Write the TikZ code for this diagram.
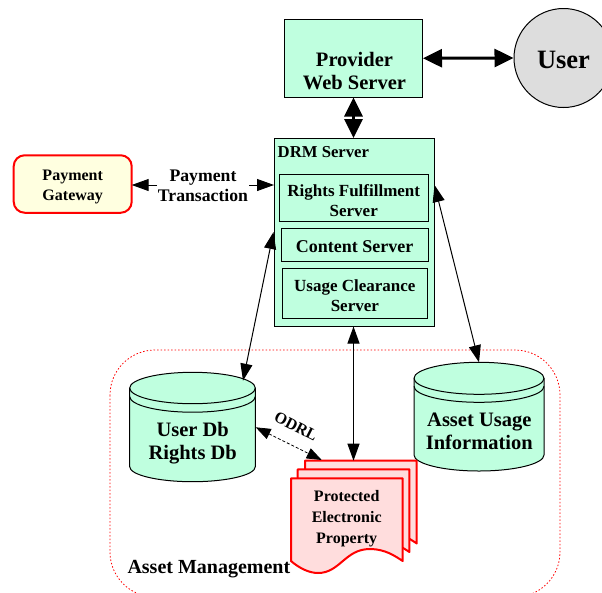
\documentclass[tikz,border=0pt]{standalone}
\usepackage{fontspec}
\setmainfont{Liberation Serif}
\usetikzlibrary{arrows.meta}
\definecolor{mintfill}{HTML}{BFFFDF}
\definecolor{grayfill}{HTML}{DDDDDD}
\definecolor{paperfill}{HTML}{FFDDDD}
\definecolor{gatefill}{HTML}{FFFFE0}
\tikzset{
  box/.style={draw=black,line width=1pt,fill=mintfill,inner sep=0pt,align=center},
  lbl/.style={inner sep=0pt,align=center},
  fs/.style n args={2}{font=\bfseries\fontsize{#1}{#2}\selectfont},
  thin arrow/.style={line width=1pt,{Triangle[length=17pt,width=12pt]}-{Triangle[length=17pt,width=12pt]}},
  thick arrow/.style={line width=3pt,{Triangle[length=19pt,width=18pt]}-{Triangle[length=19pt,width=18pt]}},
  db/.style={draw=black,line width=1pt,fill=mintfill},
  paper/.style={draw=red,line width=2pt,fill=paperfill,line join=round},
}
\newcommand{\rectnode}[7]{% name, x1,y1,x2,y2, text style, text
  \node[box,minimum width=#4pt-#2pt,minimum height=#5pt-#3pt] (#1) at ({(#2+#4)/2},{(#3+#5)/2}) {};
  \node[lbl,#6] (#1txt) at ([yshift=-2pt]#1.center) {#7};}
\newcommand{\dbcyl}[8]{% x1,x2,top,side,endside,low,band,name
  \pgfmathsetmacro{\cxx}{(#1+#2)/2}
  \pgfmathsetmacro{\kx}{0.55*(#2-#1)/2}
  \pgfmathsetmacro{\ktop}{0.55*(#4-#3)}
  \pgfmathsetmacro{\klow}{0.55*(#6-#5)}
  \draw[db] (#1,#4) .. controls (#1,#4-\ktop) and (\cxx-\kx,#3) .. (\cxx,#3)
    .. controls (\cxx+\kx,#3) and (#2,#4-\ktop) .. (#2,#4)
    -- (#2,#5) .. controls (#2,#5+\klow) and (\cxx+\kx,#6) .. (\cxx,#6)
    .. controls (\cxx-\kx,#6) and (#1,#5+\klow) .. (#1,#5) -- cycle;
  \foreach \off in {0,#7}{
    \draw[line width=1pt] (#1,#4+\off) .. controls (#1,#4+\off+\ktop) and (\cxx-\kx,#4+\off+#4-#3) .. (\cxx,#4+\off+#4-#3)
      .. controls (\cxx+\kx,#4+\off+#4-#3) and (#2,#4+\off+\ktop) .. (#2,#4+\off);
  }
  \coordinate (#8) at (\cxx,#3);
}
\newcommand{\docpage}[2]{%
  \draw[paper,shift={(#1,#2)}] (291,561) -- (291,478.3) -- (402.7,478.3) -- (402.7,561)
    .. controls (395,556) and (385,549) .. (370,549)
    .. controls (345,549) and (340,573) .. (318,573)
    .. controls (309,573) and (299,568) .. (291,561) -- cycle;}
\begin{document}
\begin{tikzpicture}[x=1pt,y=-1pt]
\useasboundingbox (0,0) rectangle (602,592);
% asset management region
\begin{scope}
  \clip (0,0) rectangle (602,592);
  \draw[red,line width=0.8pt,dash pattern=on 1.5pt off 2pt,rounded corners=45pt] (110,350) rectangle (560,597);
\end{scope}
% top nodes
\node[box,minimum width=138pt,minimum height=77.5pt] (provider) at (353.5,58.25) {};
\node[lbl,fs={20.5}{22.7}] (providertxt) at (354.5,71) {Provider\\Web Server};
\node[draw=black,line width=1pt,fill=grayfill,circle,minimum size=99pt,inner sep=0pt] (user) at (563.5,58) {};
\node[lbl,fs={26.5}{30}] (usertxt) at (563.5,59.5) {User};
% DRM server
\node[box,minimum width=160pt,minimum height=187.5pt] (drm) at (354,232.25) {};
\node[lbl,anchor=west,fs={16.7}{19}] (drmtxt) at (277.5,152.5) {DRM Server};
\rectnode{rights}{279.5}{174.7}{428}{221.7}{fs={17}{20}}{Rights Fulfillment\\Server}
\rectnode{content}{281}{228.7}{428.3}{261.3}{fs={18}{20}}{Content Server}
\rectnode{usage}{282}{268.3}{427.7}{318.3}{fs={17}{20}}{Usage Clearance\\Server}
% gateway
\node[draw=red,line width=2pt,fill=gatefill,rounded corners=11pt,minimum width=118pt,minimum height=57.5pt,inner sep=0pt] (gate) at (72.7,184) {};
\node[lbl,fs={16}{20}] (gatetxt) at (72.7,187) {Payment\\Gateway};
\node[lbl,fs={17.7}{20}] (trans) at (203,186) {Payment\\Transaction};
% databases
\dbcyl{129.7}{255.3}{372.3}{388}{466.7}{481.7}{8.5}{udbtop}
\node[lbl,fs={20.5}{22.7}] (udb) at (192.7,443) {User Db\\Rights Db};
\dbcyl{414}{544}{362.3}{378.3}{455}{471}{8}{adbtop}
\node[lbl,fs={20.5}{22.7}] (adb) at (479.3,431) {Asset Usage\\Information};
% document
\docpage{14}{-17.6}
\docpage{6.7}{-9}
\docpage{0}{0}
\node[lbl,fs={16}{20.7}] (prop) at (346.7,518.5) {Protected\\Electronic\\Property};
\node[lbl,anchor=west,fs={20}{22}] (am) at (127.3,569.5) {Asset Management};
\node[lbl,rotate=-27,fs={16}{18}] (odrl) at (296,426.5) {ODRL};
% connector end points on the node outlines
\coordinate (drmA) at (drm.south west|-0,232);
\coordinate (drmB) at (drm.north east|-0,185);
\coordinate (udbA) at (243,380.7);
\coordinate (udbB) at (255.7,427.3);
\coordinate (adbA) at (adbtop);
\coordinate (docA) at (353.5,460.7);
\coordinate (docB) at (321.7,460);
\coordinate (gateE) at (131.7,185);
\coordinate (gateT) at (157,185);
\coordinate (transE) at (249,185);
\coordinate (drmW) at (274,185);
% connectors
\draw[thick arrow] (provider.east) -- (user.west);
\draw[thick arrow] (provider.south) -- (provider.south|-drm.north);
\draw[line width=1pt,-{Triangle[length=17pt,width=12pt]}] (gateT) -- (gateE);
\draw[line width=1pt,-{Triangle[length=17pt,width=12pt]}] (transE) -- (drmW);
\draw[thin arrow] (udbA) -- (drmA);
\draw[thin arrow] (drmB) -- (adbA);
\draw[thin arrow] (docA|-drm.south) -- (docA);
\draw[line width=0.8pt,densely dashed,{Triangle[length=15pt,width=11pt]}-{Triangle[length=15pt,width=11pt]}] (udbB) -- (docB);
\end{tikzpicture}
\end{document}
